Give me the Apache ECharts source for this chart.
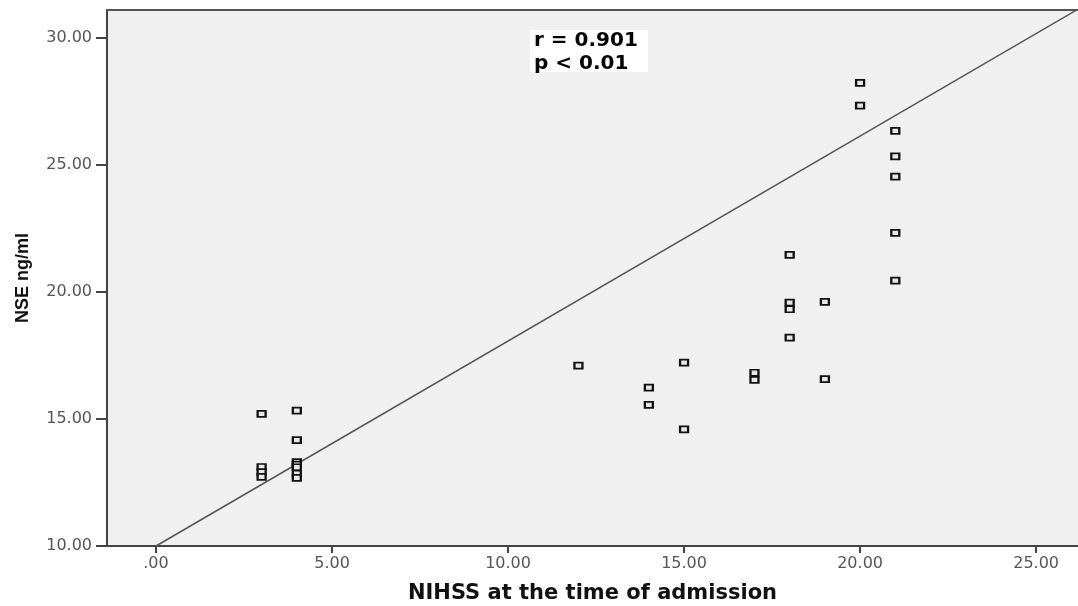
<!DOCTYPE html>
<html>
<head>
<meta charset="utf-8">
<script src="https://cdn.jsdelivr.net/npm/echarts@6/dist/echarts.min.js"></script>
<style>
html,body{margin:0;padding:0;background:#ffffff;}
#chart{width:1078px;height:606px;}
</style>
</head>
<body>
<div id="chart"></div>
<script>
// NIHSS score at admission (x) and NSE ng/ml (y)
const nihss = [3, 3, 3, 3,
               4, 4, 4, 4, 4, 4, 4,
               12, 14, 14, 15, 15, 17, 17,
               18, 18, 18, 18, 19, 19,
               20, 20, 21, 21, 21, 21, 21];
const nse   = [15.20, 13.11, 12.91, 12.72,
               15.33, 14.17, 13.30, 13.20, 13.10, 12.85, 12.68,
               17.10, 16.23, 15.56, 17.22, 14.59, 16.82, 16.54,
               21.46, 19.58, 19.32, 18.20, 19.61, 16.57,
               28.23, 27.34, 26.34, 25.34, 24.54, 22.33, 20.45];
// fit line end points
const fitX = [0, 26.19];
const fitY = [10, 31.13];
const xTicks = [0, 5, 10, 15, 20, 25];
const yTicks = [10, 15, 20, 25, 30];
const statLines = ['r = 0.901', 'p < 0.01'];

const points = nihss.map((x, i) => [x, nse[i]]);
const fit = fitX.map((x, i) => [x, fitY[i]]);

const chart = echarts.init(document.getElementById('chart'), null, {renderer: 'canvas'});
const tickFont = {fontFamily: 'DejaVu Sans', fontSize: 16, color: '#555'};

chart.setOption({
  animation: false,
  backgroundColor: '#ffffff',
  grid: {left: 107, right: 0, top: 10, bottom: 60, show: true, containLabel: false,
         outerBoundsMode: 'none',
         backgroundColor: '#f0f0f0', borderWidth: 0},
  xAxis: [{
    type: 'value', min: -1.392, max: 26.19,
    name: 'NIHSS at the time of admission',
    nameLocation: 'middle', nameGap: 37,
    nameTextStyle: {fontFamily: 'DejaVu Sans', fontWeight: 'bold', fontSize: 21, color: '#111'},
    axisLine: {show: true, onZero: false, lineStyle: {color: '#444', width: 2}},
    axisTick: {show: true, length: 7, lineStyle: {color: '#444', width: 2}, customValues: xTicks},
    axisLabel: Object.assign({margin: 10, customValues: xTicks,
      formatter: v => (v === 0 ? '.00' : Number(v).toFixed(2))}, tickFont),
    splitLine: {show: false}
  }, {
    type: 'value', position: 'top', min: -1.392, max: 26.19,
    axisLine: {show: true, onZero: false, lineStyle: {color: '#555', width: 2}},
    axisTick: {show: false}, axisLabel: {show: false}, splitLine: {show: false}
  }],
  yAxis: {
    type: 'value', min: 10, max: 31.1,
    name: 'NSE ng/ml', nameLocation: 'middle', nameGap: 75, nameRotate: 90,
    nameTextStyle: {fontFamily: 'Liberation Sans', fontWeight: 'bold', fontSize: 18, color: '#111'},
    axisLine: {show: true, onZero: false, lineStyle: {color: '#444', width: 2}},
    axisTick: {show: true, length: 11, lineStyle: {color: '#444', width: 2}, customValues: yTicks},
    axisLabel: Object.assign({margin: 15, customValues: yTicks,
      formatter: v => Number(v).toFixed(2)}, tickFont),
    splitLine: {show: false}
  },
  series: [{
    type: 'line', data: fit, showSymbol: false, symbol: 'none', clip: true,
    lineStyle: {color: '#555', width: 1.5}, z: 2, silent: true
  }, {
    type: 'scatter', data: points, symbol: 'rect', symbolSize: [8, 6],
    itemStyle: {color: '#e8e8e8', borderColor: '#111', borderWidth: 2, opacity: 1},
    z: 3
  }],
  graphic: [{
    type: 'group', left: 530, top: 29, z: 10,
    children: [{
      type: 'rect', shape: {x: 0, y: 0, width: 118, height: 42},
      style: {fill: '#ffffff'}
    }, {
      type: 'text', left: 4, top: -1,
      style: {text: statLines.join('\n'), fontFamily: 'DejaVu Sans', fontWeight: 'bold',
              fontSize: 20, lineHeight: 23, fill: '#000'}
    }]
  }]
});
</script>
</body>
</html>
